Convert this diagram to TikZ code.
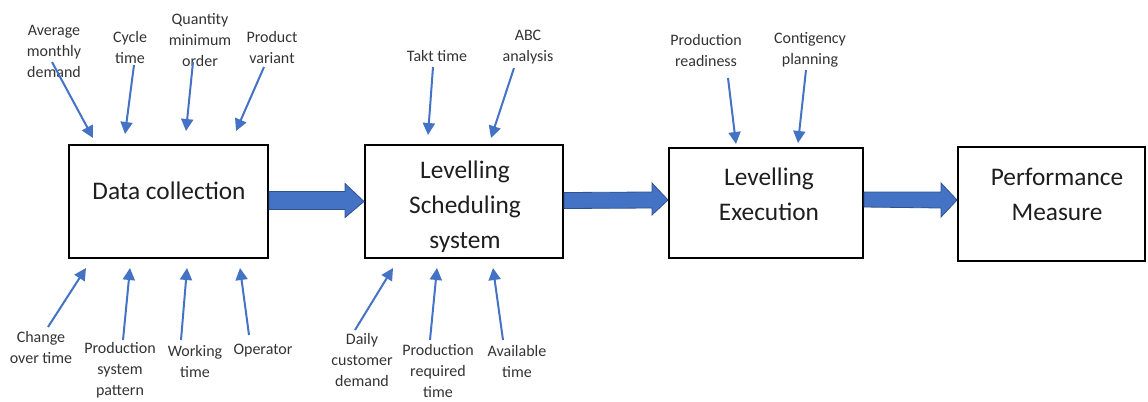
\documentclass[tikz,border=0pt]{standalone}
\usepackage{fontspec}
\setmainfont{Carlito}
\usetikzlibrary{arrows.meta,calc}
\definecolor{flow}{HTML}{4472C4}
\definecolor{flowedge}{HTML}{2F528F}
\definecolor{ink}{HTML}{1E1E1E}
\definecolor{labelink}{HTML}{333333}
\begin{document}
\begin{tikzpicture}[x=0.75pt,y=-0.75pt,
  box/.style 2 args={draw=black,line width=1.5pt,minimum width=#1,minimum height=#2,inner sep=0pt},
  boxtext/.style={text=ink,align=center,font=\fontsize{19}{26.25}\selectfont,inner sep=0pt},
  lbl/.style={text=labelink,align=center,font=\fontsize{12}{15.75}\selectfont,inner sep=0pt},
  feed/.style={draw=flow,line width=1.5pt,-{Triangle[length=9pt,width=9pt]}},
  blockarrow/.style={fill=flow,draw=flowedge,line width=0.6pt,line join=miter}]
\useasboundingbox (0,0) rectangle (1148,401);

% process boxes
\node[box={149.25pt}{84.75pt}] (dc) at (168.5,201.5) {};
\node[box={148.5pt}{84.75pt}]  (ls) at (464,201.5) {};
\node[box={145.5pt}{82.5pt}]   (le) at (766,203) {};
\node[box={140.25pt}{85.5pt}]  (pm) at (1051.5,204) {};

\node[boxtext] (dct) at (169,191) {Data collection};
\node[boxtext] (lst) at (465,207) {Levelling\\Scheduling\\system};
\node[boxtext] (let) at (769,194) {Levelling\\Execution};
\node[boxtext] (pmt) at (1057,194.5) {Performance\\Measure};

% block arrows between the stages
\draw[blockarrow] ($(dc.east)+(0,-10)$) -- ($(ls.west)+(-19,-10)$) -- ($(ls.west)+(-19,-18)$)
  -- (ls.west) -- ($(ls.west)+(-19,16)$) -- ($(ls.west)+(-19,8)$) -- ($(dc.east)+(0,8)$) -- cycle;
\draw[blockarrow] ($(ls.east)+(0,-9)$) -- ($(le.west)+(-16,-11)$) -- ($(le.west)+(-16,-20)$)
  -- ($(le.west)+(0,-3)$) -- ($(le.west)+(-16,12)$) -- ($(le.west)+(-16,5)$) -- ($(ls.east)+(0,7)$) -- cycle;
\draw[blockarrow] ($(le.east)+(0,-11)$) -- ($(pm.west)+(-16,-12)$) -- ($(pm.west)+(-16,-21)$)
  -- ($(pm.west)+(0,-4)$) -- ($(pm.west)+(-16,13)$) -- ($(pm.west)+(-16,4)$) -- ($(le.east)+(0,4)$) -- cycle;

% inputs of data collection
\node[lbl] (avg) at (54,51)  {Average\\monthly\\demand};
\node[lbl] (cyc) at (130,47) {Cycle\\time};
\node[lbl] (qty) at (200,40) {Quantity\\minimum\\order};
\node[lbl] (prv) at (272,47) {Product\\variant};
\node[lbl] (chg) at (41,347) {Change\\over time};
\node[lbl] (pss) at (120,370) {Production\\system\\pattern};
\node[lbl] (wkt) at (195,361) {Working\\time};
\node[lbl] (opr) at (263,351) {Operator};

\coordinate (avgS) at (52,62);   \coordinate (avgE) at (93,138);
\coordinate (cycS) at (134,65);  \coordinate (cycE) at (125,134);
\coordinate (qtyS) at (193,62);  \coordinate (qtyE) at (186,131);
\coordinate (prvS) at (264,67);  \coordinate (prvE) at (236,131);
\coordinate (chgS) at (48,327);  \coordinate (chgE) at (86,268);
\coordinate (pssS) at (123,340); \coordinate (pssE) at (130,268);
\coordinate (wktS) at (181,340); \coordinate (wktE) at (187,268);
\coordinate (oprS) at (249,335); \coordinate (oprE) at (240,268);

\foreach \n in {avg,cyc,qty,prv,chg,pss,wkt,opr} \draw[feed] (\n S) -- (\n E);

% inputs of levelling scheduling
\node[lbl] (takt) at (437,56) {Takt time};
\node[lbl] (abc)  at (528,47) {ABC\\analysis};
\node[lbl] (dcd)  at (362,360) {Daily\\customer\\demand};
\node[lbl] (prt)  at (438,371) {Production\\required\\time};
\node[lbl] (avt)  at (517,361) {Available\\time};

\coordinate (taktS) at (433,67);  \coordinate (taktE) at (428,135);
\coordinate (abcS)  at (514,68);  \coordinate (abcE)  at (491,138);
\coordinate (dcdS)  at (355,330); \coordinate (dcdE)  at (393,268);
\coordinate (prtS)  at (430,340); \coordinate (prtE)  at (437,268);
\coordinate (avtS)  at (503,340); \coordinate (avtE)  at (493,268);

\foreach \n in {takt,abc,dcd,prt,avt} \draw[feed] (\n S) -- (\n E);

% inputs of levelling execution
\node[lbl] (prr) at (706,50) {Production\\readiness};
\node[lbl] (ctp) at (810,50) {Contigency\\planning};

\coordinate (prrS) at (728,78); \coordinate (prrE) at (736,144);
\coordinate (ctpS) at (806,70); \coordinate (ctpE) at (798,143);

\foreach \n in {prr,ctp} \draw[feed] (\n S) -- (\n E);
\end{tikzpicture}
\end{document}
